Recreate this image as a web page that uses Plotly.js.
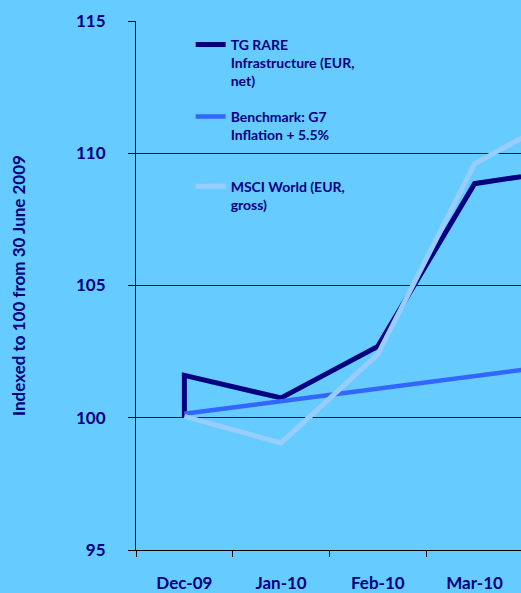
<!DOCTYPE html>
<html>
<head>
<meta charset="utf-8">
<script src="https://cdn.plot.ly/plotly-3.0.1.min.js"></script>
<style>
html,body{margin:0;padding:0;background:#66CCFF;overflow:hidden;}
#chart{width:521px;height:593px;}
</style>
</head>
<body>
<div id="chart"></div>
<script>
// Category labels (month ends)
var months = ['Dec-09', 'Jan-10', 'Feb-10', 'Mar-10', 'Apr-10'];

// TG RARE Infrastructure (EUR, net): starts at 100 then jumps within Dec-09
var tgX = ['Dec-09', 'Dec-09', 'Jan-10', 'Feb-10', 'Mar-10', 'Apr-10'];
var tgY = [100.0, 101.6, 100.75, 102.7, 108.85, 109.4];

// Benchmark: G7 Inflation + 5.5%
var benchY = [100.15, 100.63, 101.13, 101.59, 102.05];

// MSCI World (EUR, gross)
var msciY = [100.05, 99.05, 102.4, 109.6, 111.6];

var yTicks = [95, 100, 105, 110, 115];

var navy = '#000080';
var fontFam = 'Lato, "Open Sans", sans-serif';

var traces = [
  {x: tgX, y: tgY, type: 'scatter', mode: 'lines',
   name: 'TG RARE<br>Infrastructure (EUR,<br>net)',
   line: {color: '#000080', width: 5}, legend: 'legend'},
  {x: months, y: benchY, type: 'scatter', mode: 'lines',
   name: 'Benchmark: G7<br>Inflation + 5.5%',
   line: {color: '#3366FF', width: 4.5}, legend: 'legend2'},
  {x: months, y: msciY, type: 'scatter', mode: 'lines',
   name: 'MSCI World (EUR,<br>gross)',
   line: {color: '#99CCFF', width: 5}, legend: 'legend3'}
];

var legFont = {family: fontFam, size: 14, color: navy, weight: 'bold'};
function leg(y) {
  return {x: 0.142, y: y, xanchor: 'left', yanchor: 'top', bgcolor: 'rgba(0,0,0,0)',
          borderwidth: 0, font: legFont, valign: 'top', itemclick: false, itemdoubleclick: false};
}

var layout = {
  width: 521, height: 593,
  margin: {l: 136, r: 0, t: 21, b: 43, pad: 0},
  paper_bgcolor: '#66CCFF', plot_bgcolor: '#66CCFF',
  font: {family: fontFam, color: navy},
  showlegend: true,
  legend: leg(0.985),
  legend2: leg(0.849),
  legend3: leg(0.717),
  xaxis: {
    type: 'category', categoryorder: 'array', categoryarray: months,
    range: [-0.5, 3.48], showgrid: false, showline: true, linecolor: '#000', linewidth: 1,
    ticks: 'outside', tickson: 'boundaries', ticklen: 6, tickcolor: '#000',
    tickfont: {family: fontFam, size: 17, color: navy, weight: 'bold'},
    ticklabelstandoff: 18, zeroline: false, fixedrange: true
  },
  yaxis: {
    range: [95, 115], tickvals: yTicks, ticktext: yTicks.map(String),
    showgrid: true, gridcolor: '#1a1a1a', gridwidth: 1,
    showline: true, linecolor: '#000', linewidth: 1,
    ticks: 'outside', ticklen: 7, tickcolor: '#000',
    tickfont: {family: fontFam, size: 17, color: navy, weight: 'bold'},
    ticklabelstandoff: 19, zeroline: false, fixedrange: true,
    title: {text: 'Indexed to 100 from 30 June 2009', standoff: 46,
            font: {family: fontFam, size: 17, color: navy, weight: 'bold'}},
    automargin: false
  }
};

Plotly.newPlot('chart', traces, layout, {displayModeBar: false, staticPlot: true});
</script>
</body>
</html>
